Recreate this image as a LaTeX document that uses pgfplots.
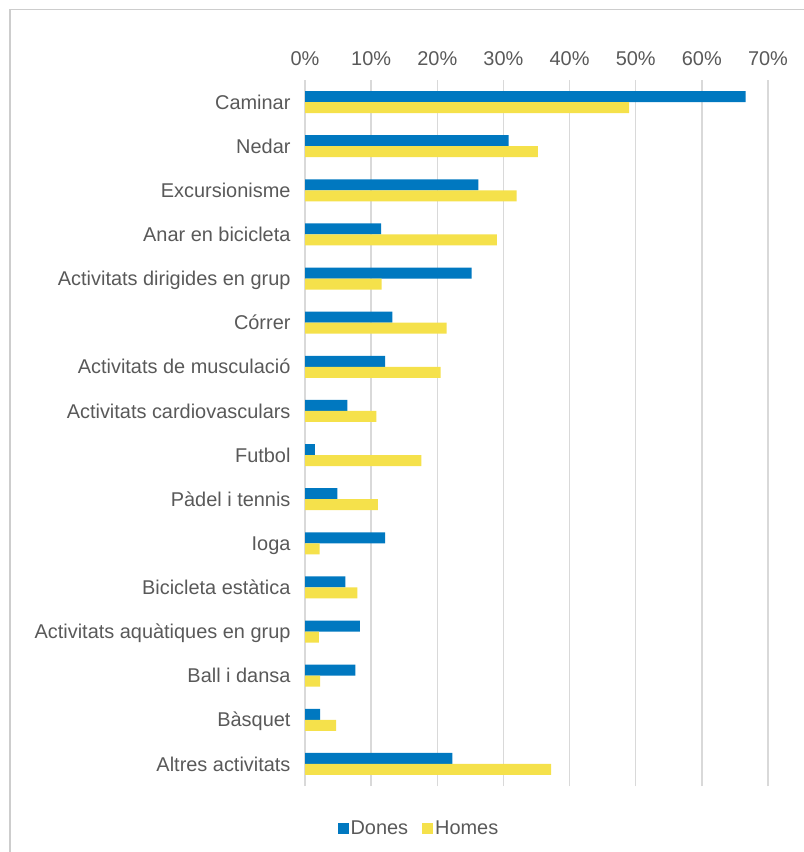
\documentclass[border=0pt]{standalone}
\usepackage{fontspec}
\setmainfont{Liberation Sans}
\usepackage{pgfplots}
\pgfplotsset{compat=1.18}
\definecolor{cblue}{RGB}{0,120,192}
\definecolor{cyellow}{RGB}{245,225,75}
\definecolor{ctext}{RGB}{89,89,89}
\definecolor{cgrid}{RGB}{217,217,217}
\definecolor{cframe}{RGB}{205,205,205}
\begin{document}
\begin{tikzpicture}
\path[use as bounding box] (0,0) rectangle (804bp,852bp);
\draw[cframe, line width=1.2bp] (10bp,0) -- (10bp,842.5bp) -- (804bp,842.5bp);
\begin{axis}[
  at={(305bp,66bp)}, anchor=south west,
  width=463bp, height=706bp, scale only axis,
  xbar, bar width=11bp,
  xmin=0, xmax=70, ymin=-0.5, ymax=15.5,
  xtick={0,10,...,70},
  xticklabel={\pgfmathprintnumber{\tick}\%},
  xticklabel pos=upper,
  ytick={0,...,15},
  yticklabels={Altres activitats, Bàsquet, Ball i dansa, Activitats aquàtiques en grup, Bicicleta estàtica, Ioga, Pàdel i tennis, Futbol, Activitats cardiovasculars, Activitats de musculació, Córrer, Activitats dirigides en grup, Anar en bicicleta, Excursionisme, Nedar, Caminar},
  /pgf/number format/assume math mode=true,
  major tick length=0pt,
  axis line style={draw=none},
  xmajorgrids, grid style={cgrid, line width=1.5bp},
  tick label style={font=\fontsize{20}{23}\selectfont, text=ctext},
  xticklabel style={yshift=11bp, text height=14.3bp, text depth=0bp},
  yticklabel style={xshift=-11bp, text height=14.3bp, text depth=0bp},
  legend columns=2,
  legend style={at={(0.246,-0.0595)}, anchor=center, draw=none, fill=none,
    font=\fontsize{20}{23}\selectfont, text=ctext,
    /tikz/every even column/.append style={column sep=12bp}},
  legend image code/.code={\fill[#1,draw=none] (0bp,-5.5bp) rectangle (11bp,5.5bp);},
]
\addplot[fill=cblue, draw=none, bar shift=5.5bp] coordinates {
(22.3,0) (2.3,1) (7.6,2) (8.3,3) (6.1,4) (12.1,5) (4.9,6) (1.5,7) (6.4,8) (12.1,9) (13.2,10) (25.2,11) (11.5,12) (26.2,13) (30.8,14) (66.6,15)};
\addplot[fill=cyellow, draw=none, bar shift=-5.5bp] coordinates {
(37.2,0) (4.7,1) (2.3,2) (2.1,3) (7.9,4) (2.2,5) (11.0,6) (17.6,7) (10.8,8) (20.5,9) (21.4,10) (11.6,11) (29.0,12) (32.0,13) (35.2,14) (49.0,15)};
\legend{Dones, Homes}
\end{axis}
\end{tikzpicture}
\end{document}
